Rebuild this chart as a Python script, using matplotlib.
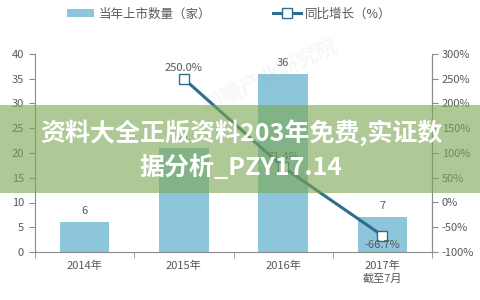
import matplotlib
matplotlib.use("Agg")
import matplotlib.pyplot as plt
from matplotlib.patches import Patch, Rectangle
from matplotlib.lines import Line2D
from matplotlib.ticker import FuncFormatter, MultipleLocator, FixedLocator

plt.rcParams['font.family'] = ['Noto Sans CJK SC', 'DejaVu Sans']

categories = ["2014年", "2015年", "2016年", "2017年\n截至7月"]
listings = [6, 21, 36, 7]
growth_cats = [1, 2, 3]
growth = [250.0, 71.4, -66.7]
bar_label_name = "当年上市数量（家）"
line_label_name = "同比增长（%）"
banner_text = "资料大全正版资料203年免费,实证数\n据分析_PZY17.14"

W, H = 481, 300
fig = plt.figure(figsize=(W / 100, H / 100), dpi=100)
fig.patch.set_facecolor("white")

txt = "#595959"
bar_c = "#8DC5DA"
line_c = "#2F6E8C"
spine_c = "#8C8C8C"

ax = fig.add_axes([35 / W, (H - 252) / H, 397 / W, 198 / H])
ax.set_facecolor("none")
x = list(range(len(categories)))
ax.bar(x, listings, width=0.5, color=bar_c, zorder=2)
for xi, v in zip(x, listings):
    ax.text(xi, v + 1.2, str(v), ha="center", va="bottom", fontsize=8, color=txt, zorder=3)
ax.set_xlim(-0.5, 3.5)
ax.set_ylim(0, 40)
ax.yaxis.set_major_locator(MultipleLocator(5))
ax.set_xticks(x)
ax.set_xticklabels(categories, fontsize=8, color=txt, linespacing=1.3)
ax.xaxis.set_minor_locator(FixedLocator([-0.5, 0.5, 1.5, 2.5, 3.5]))
ax.tick_params(axis="x", which="major", length=0, pad=6)
ax.tick_params(axis="x", which="minor", length=4, color=spine_c, direction="out")
ax.tick_params(axis="y", labelsize=8, labelcolor=txt, length=4, color=spine_c, pad=4)
ax.spines["top"].set_visible(False)
for s in ["left", "bottom", "right"]:
    ax.spines[s].set_color(spine_c)
    ax.spines[s].set_linewidth(0.8)

ax2 = ax.twinx()
ax2.set_ylim(-100, 300)
ax2.yaxis.set_major_locator(MultipleLocator(50))
ax2.yaxis.set_major_formatter(FuncFormatter(lambda v, p: f"{v:.0f}%"))
ax2.tick_params(axis="y", labelsize=8, labelcolor=txt, length=4, color=spine_c, pad=3)
ax2.spines["top"].set_visible(False)
ax2.spines["right"].set_color(spine_c)
ax2.spines["right"].set_linewidth(0.8)
ax2.spines["left"].set_visible(False)
ax2.spines["bottom"].set_visible(False)
ax2.plot(growth_cats, growth, color=line_c, lw=2.2, marker="s", ms=7,
         mfc="white", mec=line_c, mew=1.0, zorder=4)
for xi, g in zip(growth_cats, growth):
    if g < 0:
        ax2.text(xi, g - 9, f"{g:.1f}%", ha="center", va="top", fontsize=8, color=txt, zorder=5)
    else:
        ax2.text(xi, g + 11, f"{g:.1f}%", ha="center", va="bottom", fontsize=8, color=txt, zorder=5)

handles = [Patch(facecolor=bar_c, edgecolor="none"),
           Line2D([0], [0], color=line_c, lw=2.2, marker="s", ms=7, mfc="white", mec=line_c)]
fig.legend(handles, [bar_label_name, line_label_name], loc="center",
           bbox_to_anchor=(229 / W, 1 - 14 / H), ncol=2, frameon=False,
           fontsize=9, handlelength=2.2, handleheight=0.6, handletextpad=0.3,
           columnspacing=5.0, labelcolor=txt)

# faint watermark
fig.text(270 / W, 1 - 75 / H, "前瞻产业研究院", fontsize=15, color="#9a9a9a", alpha=0.08,
         rotation=25, ha="center", va="center", fontweight="bold")

# banner
fig.patches.append(Rectangle((0, 1 - 193 / H), 1, 88 / H, transform=fig.transFigure,
                             facecolor="#7CA855", alpha=0.62, edgecolor="none", zorder=10))
fig.text(241 / W, 1 - 150 / H, banner_text, ha="center", va="center", fontsize=18,
         fontweight="bold", color="white", linespacing=1.35, zorder=11)

fig.savefig("out.png", dpi=100)
